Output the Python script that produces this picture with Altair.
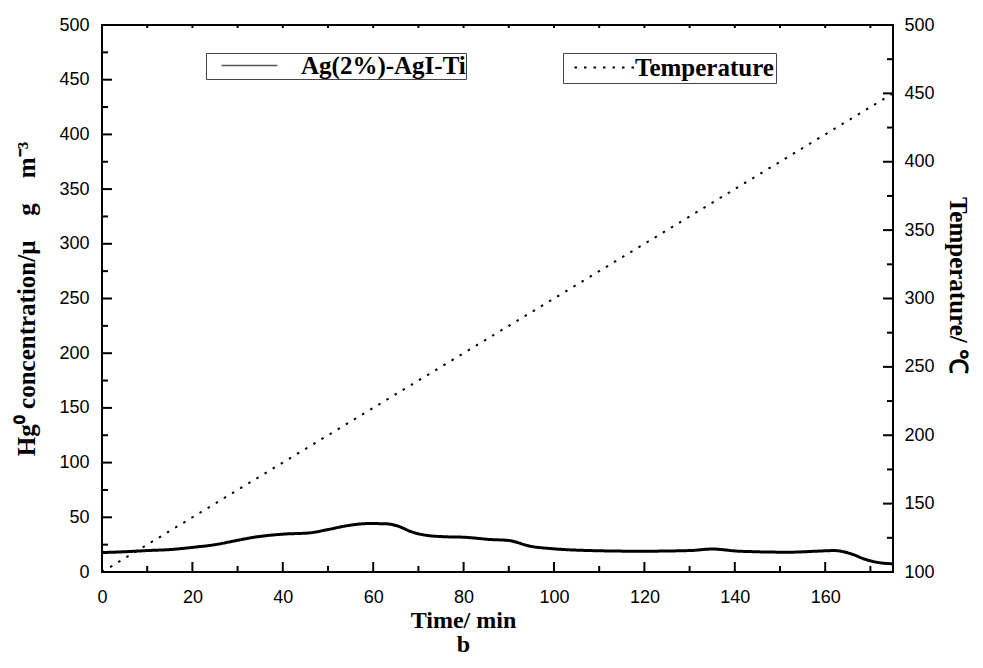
import altair as alt
import pandas as pd

# ---- data ----
time_hg = [0, 5, 10, 15, 20, 25, 30, 34, 40, 46, 50, 54.5, 59, 63, 65.5, 68.5, 72, 76, 80, 86, 90,
           94.7, 100, 108, 119, 130, 135, 141, 152, 158, 162, 165.5, 169, 172, 175]
hg_conc = [17.8, 18.5, 19.6, 20.5, 22.5, 25, 29, 32, 34.6, 35.8, 38.8, 42.5, 44.3, 44, 41.9, 36.7, 33.4,
           32.2, 31.8, 29.7, 28.8, 23.6, 21.2, 19.6, 19.0, 19.6, 21.0, 19.0, 18.1, 19.0, 19.6, 16.9, 11.4, 8.5, 7.5]
time_temp = [0, 175]
temperature = [100, 450]

hg_label = "Ag(2%)-AgI-Ti"
temp_label = "Temperature"

x_major = [0, 20, 40, 60, 80, 100, 120, 140, 160]
x_minor = [10, 30, 50, 70, 90, 110, 130, 150, 170]
x_top = [10, 20, 30, 40, 50, 60, 70, 80, 90, 100, 110, 120, 130, 140, 150, 160, 170]
yl_major = [0, 50, 100, 150, 200, 250, 300, 350, 400, 450, 500]
yl_minor = [25, 75, 125, 175, 225, 275, 325, 375, 425, 475]
yr_major = [100, 150, 200, 250, 300, 350, 400, 450, 500]
yr_minor = [125, 175, 225, 275, 325, 375, 425, 475]

hg_df = pd.DataFrame({"t": time_hg, "v": hg_conc, "s": hg_label})
temp_df = pd.DataFrame({"t": time_temp, "v": temperature, "s": temp_label})

W, H = 791, 547
MAJ, MIN, TOP = 10, 6, 3

SANS = "Liberation Sans"
SERIF = "Liberation Serif"

xscale = alt.Scale(domain=[0, 175], nice=False, zero=False)
yl_scale = alt.Scale(domain=[0, 500], nice=False)
yr_scale = alt.Scale(domain=[100, 500], nice=False, zero=False)

axis_common = dict(domain=False, grid=False, ticks=False, labelColor="black", labelFlush=False,
                   labelFont=SANS, labelFontSize=18, format="d")

hg_line = alt.Chart(hg_df).mark_line(color="black", strokeWidth=3, interpolate="monotone").encode(
    x=alt.X("t:Q", scale=xscale, axis=alt.Axis(
        orient="bottom", values=x_major, labelPadding=16,
        title="Time/ min", titleFont=SERIF, titleFontSize=24, titleFontWeight="bold",
        titleColor="black", titlePadding=2, titleX=361, **axis_common)),
    y=alt.Y("v:Q", scale=yl_scale, axis=alt.Axis(
        orient="left", values=yl_major, labelPadding=13,
        title="Hg⁰ concentration/μ\u2003g\u2003m⁻³", titleFont=SERIF, titleFontSize=25,
        titleFontWeight="bold", titleColor="black", titlePadding=19, **axis_common)),
    strokeDash=alt.StrokeDash("s:N", scale=alt.Scale(range=[[1, 0]]), legend=alt.Legend(
        orient="none", legendX=104, legendY=28, title=None, padding=0,
        strokeColor="#444", fillColor="white",
        symbolType="M-4,0H4", symbolSize=196, symbolStrokeWidth=1.5, symbolStrokeColor="#555",
        symbolOffset=31, labelOffset=39, labelFont=SERIF, labelFontSize=25,
        labelFontWeight="bold", labelColor="black", labelLimit=400)),
)

temp_line = alt.Chart(temp_df).mark_line(color="black", strokeWidth=2).encode(
    x=alt.X("t:Q", scale=xscale, axis=None),
    y=alt.Y("v:Q", scale=yr_scale, axis=alt.Axis(
        orient="right", values=yr_major, labelPadding=11,
        title="Temperature/ ℃", titleFont=SERIF, titleFontSize=25, titleFontWeight="bold",
        titleColor="black", titlePadding=10, titleY=260, **axis_common)),
    strokeDash=alt.StrokeDash("s:N", scale=alt.Scale(range=[[2.5, 7]]), legend=alt.Legend(
        orient="none", legendX=461, legendY=28, title=None, padding=2,
        strokeColor="#444", fillColor="white",
        symbolType="M-4,0H4", symbolSize=225, symbolStrokeWidth=2, symbolStrokeColor="black",
        symbolOffset=27, labelOffset=18, labelFont=SERIF, labelFontSize=25,
        labelFontWeight="bold", labelColor="black", labelLimit=400)),
)


def x_ticks(values, y0, y1):
    return alt.Chart(pd.DataFrame({"t": values})).mark_rule(color="black", strokeWidth=2).encode(
        x=alt.X("t:Q", scale=xscale, axis=None),
        y=alt.value(y0), y2=alt.value(y1))


def y_ticks(values, scale, x0, x1):
    return alt.Chart(pd.DataFrame({"v": values})).mark_rule(color="black", strokeWidth=2).encode(
        y=alt.Y("v:Q", scale=scale, axis=None),
        x=alt.value(x0), x2=alt.value(x1))


layers = [
    hg_line, temp_line,
    x_ticks(x_major, H, H - MAJ),
    x_ticks(x_minor, H, H - MIN),
    x_ticks(x_top, 0, TOP),
    y_ticks(yl_major, yl_scale, 0, MAJ),
    y_ticks(yl_minor, yl_scale, 0, MIN),
    y_ticks(yr_major, yr_scale, W, W - MAJ),
    y_ticks(yr_minor, yr_scale, W, W - MIN),
]

chart = alt.layer(*layers).resolve_scale(
    y="independent", strokeDash="independent"
).resolve_axis(
    x="independent", y="independent"
).resolve_legend(
    strokeDash="independent"
).properties(
    width=W, height=H,
    autosize=alt.AutoSizeParams(type="none"),
    padding={"left": 94, "top": 17, "right": 80, "bottom": 84},
    title=alt.TitleParams("b", orient="bottom", font=SERIF, fontSize=24, fontWeight="bold",
                          color="black", dx=-34, offset=20, baseline="alphabetic"),
    background="white",
).configure_view(stroke="black", strokeWidth=2)

chart.save("out.html", embed_options={"renderer": "svg", "actions": False})
